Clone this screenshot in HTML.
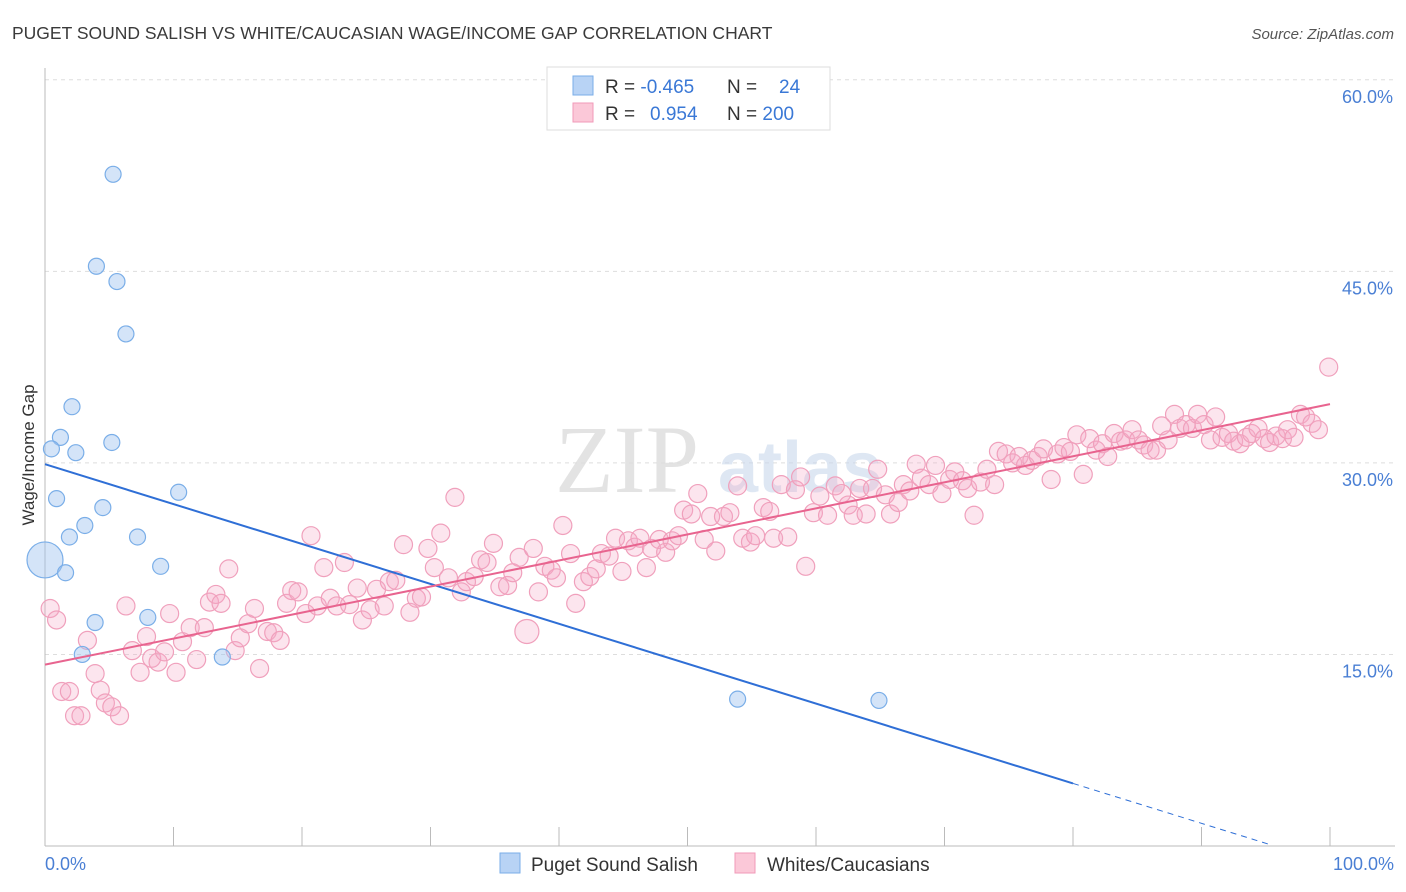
<!DOCTYPE html>
<html><head><meta charset="utf-8"><style>
body{margin:0;background:#fff;font-family:"Liberation Sans",sans-serif;}
svg{display:block}
</style></head><body>
<svg width="1406" height="892" viewBox="0 0 1406 892">
<text x="12" y="39" font-size="17.5" fill="#3a3a3a">PUGET SOUND SALISH VS WHITE/CAUCASIAN WAGE/INCOME GAP CORRELATION CHART</text>
<text x="1394" y="39" font-size="15" fill="#555" font-style="italic" text-anchor="end">Source: ZipAtlas.com</text>
<g id="grid"></g>
<g><text x="555" y="492" font-size="96" font-family="Liberation Serif,serif" fill="#ddd" opacity="0.8">ZIP</text><text x="718" y="492" font-size="72" fill="#c9d8ec" opacity="0.6" font-weight="bold">atlas</text></g>
<g id="axes"></g>
<g id="pink"></g>
<g id="blue"></g>
<g id="lines"></g>
<text x="34" y="455" font-size="17" fill="#333" text-anchor="middle" transform="rotate(-90 34 455)">Wage/Income Gap</text>
<text x="45" y="870" font-size="18" fill="#4a7fd4">0.0%</text>
<text x="1394" y="870" font-size="18" fill="#4a7fd4" text-anchor="end">100.0%</text>
<g>
<rect x="547" y="67" width="283" height="63" fill="#fff" stroke="#ddd"/>
<rect x="573" y="76" width="20" height="19" fill="#b8d3f5" stroke="#7aaee8"/>
<rect x="573" y="103" width="20" height="19" fill="#fbc8d8" stroke="#f09ab8"/>
<text x="605" y="93" font-size="19" fill="#333">R = <tspan fill="#3a78d6">-0.465</tspan></text>
<text x="727" y="93" font-size="19" fill="#333">N = <tspan fill="#3a78d6" x="779">24</tspan></text>
<text x="605" y="120" font-size="19" fill="#333">R = <tspan fill="#3a78d6" x="650">0.954</tspan></text>
<text x="727" y="120" font-size="19" fill="#333">N = <tspan fill="#3a78d6">200</tspan></text>
</g>
<g>
<rect x="500" y="853" width="20" height="20" fill="#b8d3f5" stroke="#7aaee8"/>
<text x="531" y="871" font-size="19" fill="#333">Puget Sound Salish</text>
<rect x="735" y="853" width="20" height="20" fill="#fbc8d8" stroke="#f09ab8"/>
<text x="767" y="871" font-size="19" fill="#333">Whites/Caucasians</text>
</g>
</svg>
<script>
const yTicks=[15,30,45,60];
const yTickLabels=["15.0%","30.0%","45.0%","60.0%"];
const xTicks=[10,20,30,40,50,60,70,80,90,100];
const blueX=[5.3,4.0,5.6,6.3,2.1,1.2,0.5,2.4,5.2,0.9,4.5,10.4,3.1,1.9,7.2,0,1.6,9.0,3.9,8.0,2.9,13.8,53.9,64.9];
const blueY=[52.6,45.4,44.2,40.1,34.4,32.0,31.1,30.8,31.6,27.2,26.5,27.7,25.1,24.2,24.2,22.4,21.4,21.9,17.5,17.9,15.0,14.8,11.5,11.4];
const blueBig=[15];
const pinkX=[0.4,0.9,1.3,1.9,2.3,2.8,3.3,3.9,4.3,4.7,5.2,5.8,6.3,6.8,7.4,7.9,8.3,8.8,9.3,9.7,10.2,10.7,11.3,11.8,12.4,12.8,13.3,13.7,14.3,14.8,15.2,15.8,16.3,16.7,17.3,17.8,18.3,18.8,19.2,19.7,20.3,20.7,21.2,21.7,22.2,22.7,23.3,23.7,24.3,24.7,25.3,25.8,26.4,26.8,27.3,27.9,28.4,28.9,29.3,29.8,30.3,30.8,31.4,31.9,32.4,32.8,33.4,33.9,34.4,34.9,35.4,36.0,36.4,36.9,37.5,38.0,38.4,38.9,39.4,39.8,40.3,40.9,41.3,41.9,42.4,42.9,43.3,43.9,44.4,44.9,45.4,45.9,46.3,46.8,47.2,47.8,48.3,48.8,49.3,49.7,50.3,50.8,51.3,51.8,52.2,52.8,53.3,53.9,54.3,54.9,55.3,55.9,56.4,56.7,57.3,57.8,58.4,58.8,59.2,59.8,60.3,60.9,61.5,62.0,62.5,62.9,63.4,63.9,64.4,64.8,65.4,65.8,66.4,66.8,67.3,67.8,68.2,68.8,69.3,69.8,70.4,70.8,71.4,71.8,72.3,72.8,73.3,73.9,74.2,74.8,75.3,75.8,76.3,76.8,77.3,77.7,78.3,78.8,79.3,79.8,80.3,80.8,81.3,81.8,82.3,82.7,83.2,83.7,84.1,84.6,85.1,85.5,86.0,86.5,86.9,87.4,87.9,88.3,88.8,89.3,89.7,90.2,90.7,91.1,91.6,92.1,92.5,93.0,93.5,93.9,94.4,94.9,95.3,95.8,96.3,96.7,97.2,97.7,98.1,98.6,99.1,99.9];
const pinkY=[18.6,17.7,12.1,12.1,10.2,10.2,16.1,13.5,12.2,11.2,10.9,10.2,18.8,15.3,13.6,16.4,14.7,14.4,15.2,18.2,13.6,16.0,17.1,14.6,17.1,19.1,19.7,19.0,21.7,15.3,16.3,17.4,18.6,13.9,16.8,16.7,16.1,19.0,20.0,19.9,18.2,24.3,18.8,21.8,19.4,18.8,22.2,18.9,20.2,17.7,18.5,20.1,18.8,20.7,20.8,23.6,18.3,19.4,19.5,23.3,21.8,24.5,21.0,27.3,19.9,20.7,21.1,22.4,22.2,23.7,20.3,20.4,21.4,22.6,16.8,23.3,19.9,21.9,21.6,21.0,25.1,22.9,19.0,20.7,21.1,21.7,22.9,22.7,24.1,21.5,23.9,23.4,24.1,21.8,23.3,24.0,23.0,23.9,24.3,26.3,26.0,27.6,24.0,25.8,23.1,25.8,26.1,28.2,24.1,23.8,24.3,26.5,26.2,24.1,28.3,24.2,27.9,28.9,21.9,26.1,27.4,25.9,28.2,27.6,26.7,25.9,28.0,26.0,28.0,29.5,27.5,26.0,26.9,28.3,27.8,29.9,28.8,28.3,29.8,27.6,28.7,29.3,28.6,28.0,25.9,28.5,29.5,28.3,30.9,30.7,30.0,30.5,29.8,30.2,30.5,31.1,28.7,30.7,31.2,30.9,32.2,29.1,31.9,31.0,31.5,30.5,32.3,31.7,31.8,32.6,31.8,31.4,31.0,31.0,32.9,31.8,33.8,32.7,33.0,32.7,33.8,33.0,31.8,33.6,32.0,32.3,31.7,31.5,32.0,32.3,32.7,31.9,31.6,32.1,31.9,32.6,32.0,33.8,33.6,33.1,32.6,37.5];
const pinkBig=[74];
const blueTrend=[29.9,-0.3125];
const pinkTrend=[14.2,0.204];
const NS="http://www.w3.org/2000/svg";
const xs=v=>45+v*12.85, ys=v=>846-v*12.77;
function mk(t,a,p){const e=document.createElementNS(NS,t);for(const k in a)e.setAttribute(k,a[k]);p.appendChild(e);return e;}
const grid=document.getElementById('grid'),axes=document.getElementById('axes');
yTicks.forEach((t,i)=>{
 const l=mk('line',{x1:45,x2:1395,y1:ys(t),y2:ys(t),stroke:'#ddd','stroke-dasharray':'4,4'},grid);
 
 
 const tx=mk('text',{x:1393,y:ys(t)+23,'font-size':18,fill:'#4a7fd4','text-anchor':'end'},axes);
 tx.textContent=yTickLabels[i];
 
 
});
const ya=mk('line',{x1:45,x2:45,y1:68,y2:846,stroke:'#bbb'},axes);


const xa=mk('line',{x1:45,x2:1395,y1:846,y2:846,stroke:'#bbb'},axes);


xTicks.forEach(t=>{const l=mk('line',{x1:xs(t),x2:xs(t),y1:827,y2:846,stroke:'#bbb'},axes);
 
 });
const pg=document.getElementById('pink');
pinkX.forEach((x,i)=>{const c=mk('circle',{cx:xs(x),cy:ys(pinkY[i]),r:pinkBig.includes(i)?12:9,fill:'rgba(246,170,198,0.3)',stroke:'#f0a0bc','stroke-width':1.2},pg);
 
 });
const bg=document.getElementById('blue');
blueX.forEach((x,i)=>{const c=mk('circle',{cx:xs(x),cy:ys(blueY[i]),r:blueBig.includes(i)?18:8,fill:'rgba(160,196,240,0.45)',stroke:'#7aaee8','stroke-width':1.2},bg);
 
 });
const lg=document.getElementById('lines');
const by=x=>blueTrend[0]+blueTrend[1]*x, py=x=>pinkTrend[0]+pinkTrend[1]*x;
const l1=mk('line',{x1:xs(0),y1:ys(by(0)),x2:xs(80),y2:ys(by(80)),stroke:'#2f6fd6','stroke-width':2},lg);


const l2=mk('line',{x1:xs(80),y1:ys(by(80)),x2:xs(95.5),y2:ys(by(95.5)),stroke:'#2f6fd6','stroke-width':1,'stroke-dasharray':'6,5'},lg);


const l3=mk('line',{x1:xs(0),y1:ys(py(0)),x2:xs(100),y2:ys(py(100)),stroke:'#e8648f','stroke-width':2},lg);


</script>
</body></html>
